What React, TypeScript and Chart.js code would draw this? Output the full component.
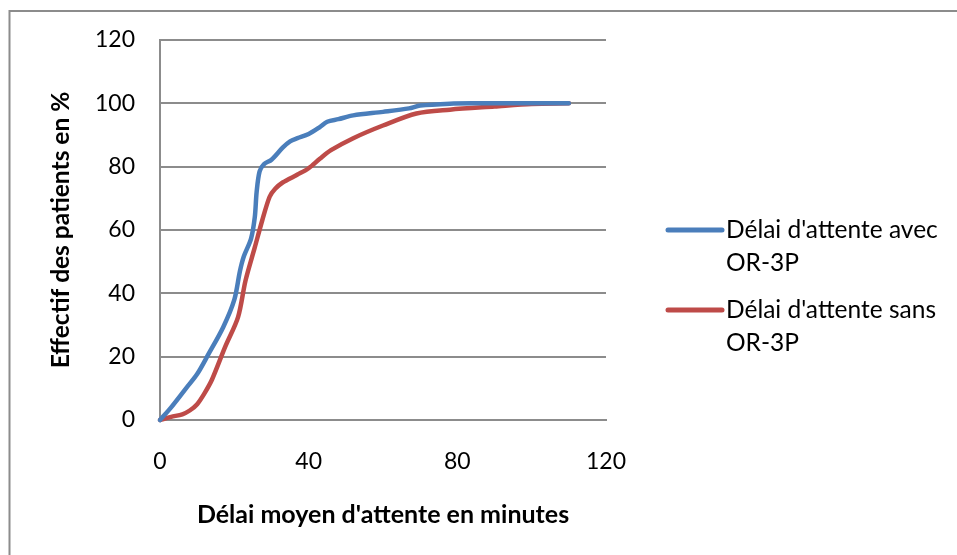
import React, { useEffect, useRef } from "react";
import { Chart, registerables } from "chart.js";

Chart.register(...registerables);

// ---- data ----
const xTickValues = [0, 40, 80, 120];
const yTickValues = [0, 20, 40, 60, 80, 100, 120];

const avecX = [0, 3, 7, 10, 13, 17, 20, 21.5, 22.5, 24.5, 25.5, 26, 26.8, 28, 30, 33, 35, 37, 40, 43, 45, 48, 52, 60, 67, 70, 78, 85, 100, 110];
const avecY = [0, 4, 10, 14.5, 20.7, 29.3, 38, 47, 51.5, 57.3, 64, 72, 78.5, 80.8, 82.2, 86, 88, 89, 90.3, 92.5, 94.2, 95, 96.2, 97.3, 98.4, 99.3, 99.9, 100, 100, 100];

const sansX = [0, 3, 6, 8, 10, 12, 14, 17.5, 21, 23, 25.5, 27.5, 29.5, 31, 33, 37, 40, 43, 46, 52, 60, 69, 78, 90, 100, 110];
const sansY = [0, 1, 1.8, 3, 5, 8.5, 12.8, 23, 32.5, 44, 54.5, 63, 70.5, 73, 75, 77.5, 79.5, 82.5, 85.2, 89, 93, 96.8, 98, 99, 99.8, 100];

const seriesNames = ["Délai d'attente avec OR-3P", "Délai d'attente sans OR-3P"];
const legendLines = [
  ["Délai d'attente avec", "OR-3P"],
  ["Délai d'attente sans", "OR-3P"],
];
const seriesColors = ["#4A7EBB", "#BE4B48"];
const xTitle = "Délai moyen d'attente en minutes";
const yTitle = "Effectif des patients en %";

const FONT = "Lato";
const GRID = "#8c8c8c";

const toPoints = (xs: number[], ys: number[]) => xs.map((x, i) => ({ x, y: ys[i] }));

const framePlugin = {
  id: "frame",
  beforeDraw(chart: any) {
    const ctx = chart.ctx;
    ctx.save();
    ctx.fillStyle = "#ffffff";
    ctx.fillRect(0, 0, chart.width, chart.height);
    ctx.strokeStyle = GRID;
    ctx.lineWidth = 2;
    ctx.strokeRect(9.5, 11, chart.width + 50, chart.height + 50);
    ctx.restore();
  },
};

const legendPlugin = {
  id: "customLegend",
  afterDraw(chart: any) {
    const ctx = chart.ctx;
    const area = chart.chartArea;
    ctx.save();
    chart.data.datasets.forEach((ds: any, i: number) => {
      const y0 = area.top + 190 + i * 80;
      const x0 = area.right + 62;
      ctx.strokeStyle = ds.borderColor;
      ctx.lineWidth = 5;
      ctx.lineCap = "round";
      ctx.beginPath();
      ctx.moveTo(x0, y0);
      ctx.lineTo(x0 + 54, y0);
      ctx.stroke();
      ctx.fillStyle = "#000";
      ctx.font = `24.5px ${FONT}`;
      ctx.textBaseline = "middle";
      ctx.textAlign = "left";
      legendLines[i].forEach((line, j) => {
        ctx.fillText(line, x0 + 58, y0 + j * 33);
      });
    });
    ctx.restore();
  },
};

export default function App() {
  const canvasRef = useRef<HTMLCanvasElement | null>(null);

  useEffect(() => {
    if (!canvasRef.current) return;
    const chart = new Chart(canvasRef.current, {
      type: "scatter",
      data: {
        datasets: [
          {
            label: seriesNames[0],
            data: toPoints(avecX, avecY),
            borderColor: seriesColors[0],
            backgroundColor: seriesColors[0],
            showLine: true,
            borderWidth: 4.5,
            pointRadius: 0,
            tension: 0.3,
            borderCapStyle: "round",
            borderJoinStyle: "round",
            clip: false,
          } as any,
          {
            label: seriesNames[1],
            data: toPoints(sansX, sansY),
            borderColor: seriesColors[1],
            backgroundColor: seriesColors[1],
            showLine: true,
            borderWidth: 4.5,
            pointRadius: 0,
            tension: 0.3,
            borderCapStyle: "round",
            borderJoinStyle: "round",
            clip: false,
          } as any,
        ],
      },
      options: {
        animation: false,
        responsive: true,
        maintainAspectRatio: false,
        layout: { padding: { left: 0, top: 40, right: 351, bottom: 0 } },
        plugins: {
          legend: { display: false },
          tooltip: { enabled: false },
        },
        scales: {
          x: {
            type: "linear",
            min: 0,
            max: 120,
            afterFit: (s: any) => {
              s.height = 135;
            },
            afterBuildTicks: (s: any) => {
              s.ticks = xTickValues.map((v) => ({ value: v }));
            },
            grid: { display: false, drawTicks: false },
            border: { display: true, color: GRID, width: 2 },
            ticks: {
              padding: 28,
              color: "#000",
              font: { family: FONT, size: 23 },
            },
            title: {
              display: true,
              text: xTitle,
              color: "#000",
              font: { family: FONT, size: 25, weight: "bold" },
              padding: { top: 0, bottom: 25 },
            },
          },
          y: {
            type: "linear",
            min: 0,
            max: 120,
            afterFit: (s: any) => {
              s.width = 160;
            },
            afterBuildTicks: (s: any) => {
              s.ticks = yTickValues.map((v) => ({ value: v }));
            },
            grid: { display: true, color: GRID, lineWidth: 2, drawTicks: false },
            border: { display: true, color: GRID, width: 2 },
            ticks: {
              padding: 25,
              color: "#000",
              font: { family: FONT, size: 23 },
            },
            title: {
              display: true,
              text: yTitle,
              color: "#000",
              font: { family: FONT, size: 24.5, weight: "bold" },
              padding: { top: 46, bottom: 0 },
            },
          },
        },
      } as any,
      plugins: [framePlugin, legendPlugin],
    });
    return () => chart.destroy();
  }, []);

  return (
    <div style={{ position: "fixed", left: 0, top: 0, width: 957, height: 555 }}>
      <canvas ref={canvasRef} />
    </div>
  );
}
